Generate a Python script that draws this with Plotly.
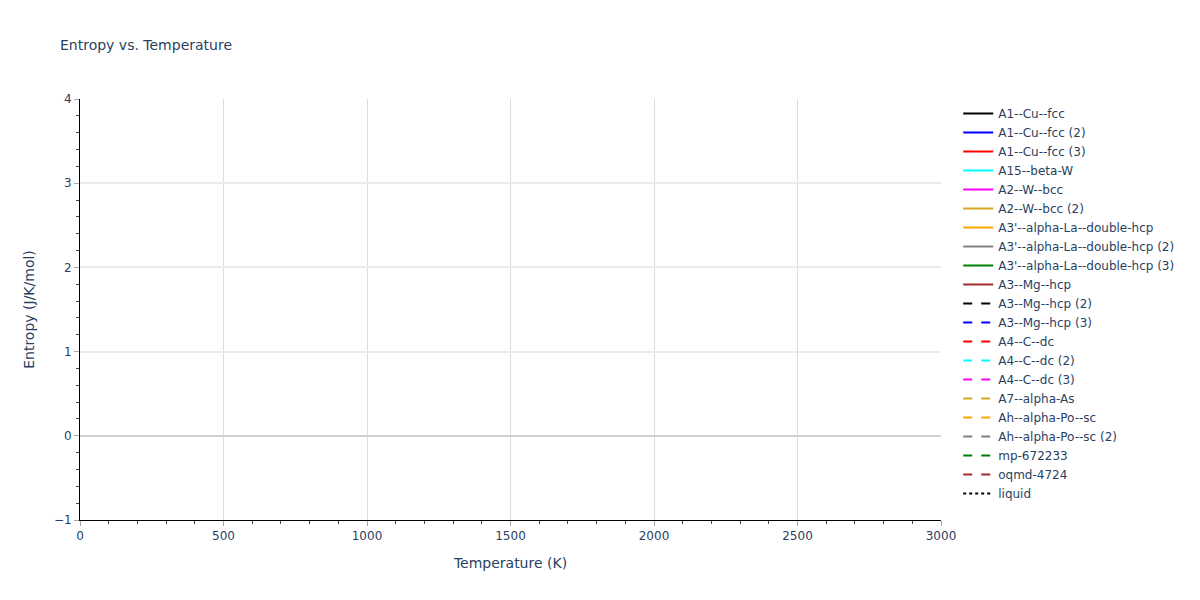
import math
import plotly.graph_objects as go

# Phase names shown in the legend (no visible data in the reference: all series empty)
phases = [
    "A1--Cu--fcc", "A1--Cu--fcc (2)", "A1--Cu--fcc (3)", "A15--beta-W",
    "A2--W--bcc", "A2--W--bcc (2)", "A3'--alpha-La--double-hcp",
    "A3'--alpha-La--double-hcp (2)", "A3'--alpha-La--double-hcp (3)",
    "A3--Mg--hcp", "A3--Mg--hcp (2)", "A3--Mg--hcp (3)", "A4--C--dc",
    "A4--C--dc (2)", "A4--C--dc (3)", "A7--alpha-As", "Ah--alpha-Po--sc",
    "Ah--alpha-Po--sc (2)", "mp-672233", "oqmd-4724", "liquid",
]
temperature = [0]          # K
# No entropy values are drawn in the reference (undefined everywhere)
entropy = {p: [math.nan] for p in phases}  # J/K/mol

colors = ["black", "blue", "red", "cyan", "magenta", "goldenrod",
          "orange", "gray", "green", "brown"]

fig = go.Figure()
for i, p in enumerate(phases):
    if p == "liquid":
        color, dash = "black", "dot"
    else:
        color = colors[i % 10]
        dash = "solid" if i < 10 else "dash"
    fig.add_trace(go.Scatter(x=temperature, y=entropy[p], mode="lines", name=p,
                             line=dict(color=color, dash=dash, width=2)))

fig.update_layout(
    template="plotly_white",
    width=1200, height=600,
    font=dict(family="DejaVu Sans", size=12, color="#2a3f5f"),
    title=dict(text="Entropy vs. Temperature", x=52 / 1200, xanchor="left",
               y=1 - 37 / 600, yanchor="middle", font=dict(size=14)),
    margin=dict(l=72, r=267, t=91, b=88),
    xaxis=dict(title=dict(text="Temperature (K)", font=dict(size=14)),
               range=[0, 3000], dtick=500,
               showline=True, linecolor="black", ticks="outside",
               tickcolor="#aaaaaa", ticklen=5,
               showgrid=True, gridcolor="#dddddd", gridwidth=1,
               minor=dict(dtick=100, ticks="outside", ticklen=3,
                          tickcolor="#444444", showgrid=False),
               zeroline=False),
    yaxis=dict(title=dict(text="Entropy (J/K/mol)", font=dict(size=14)),
               range=[-1, 4], dtick=1,
               showline=True, linecolor="black", ticks="outside",
               tickcolor="#aaaaaa", ticklen=5,
               showgrid=True, gridcolor="#ebebeb", gridwidth=2,
               minor=dict(dtick=0.2, ticks="outside", ticklen=3,
                          tickcolor="#444444", showgrid=False),
               zeroline=True, zerolinecolor="#d0d0d0", zerolinewidth=2),
    legend=dict(x=1.02, y=1, font=dict(size=12)),
)
fig.write_html("out.html")
